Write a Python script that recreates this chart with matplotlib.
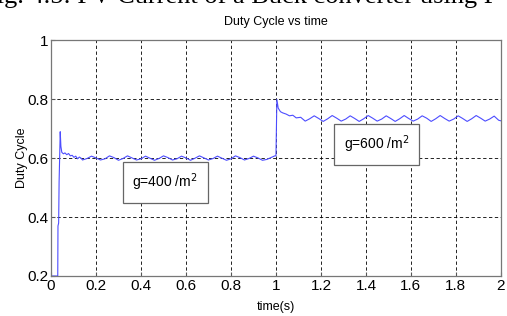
import numpy as np
import matplotlib.pyplot as plt

plt.rcParams['font.family'] = ['Liberation Sans Narrow', 'Liberation Sans', 'DejaVu Sans']

# startup transient (0 .. 0.14 s)
t_start = [0.0, 0.001, 0.030, 0.031, 0.034, 0.036, 0.041, 0.044, 0.048, 0.055, 0.062,
           0.070, 0.078, 0.086, 0.094, 0.102, 0.110, 0.118, 0.126, 0.134]
d_start = [0.53, 0.20, 0.20, 0.37, 0.38, 0.52, 0.69, 0.64, 0.620, 0.615, 0.618,
           0.612, 0.616, 0.608, 0.610, 0.603, 0.607, 0.598, 0.604, 0.600]

# ripple at g=400 (0.14 .. 1.0 s)
t_low = [0.14, 0.16, 0.18, 0.20, 0.22, 0.24, 0.26, 0.28, 0.30, 0.32, 0.34, 0.36,
         0.38, 0.40, 0.42, 0.44, 0.46, 0.48, 0.50, 0.52, 0.54, 0.56, 0.58, 0.60,
         0.62, 0.64, 0.66, 0.68, 0.70, 0.72, 0.74, 0.76, 0.78, 0.80, 0.82, 0.84,
         0.86, 0.88, 0.90, 0.92, 0.94, 0.96, 0.98, 0.995]
d_low = [0.594, 0.599, 0.607, 0.601, 0.594, 0.598, 0.608, 0.602, 0.593, 0.599, 0.608,
         0.601, 0.594, 0.598, 0.607, 0.600, 0.593, 0.599, 0.608, 0.602, 0.594, 0.598,
         0.607, 0.601, 0.593, 0.600, 0.608, 0.601, 0.594, 0.599, 0.607, 0.600, 0.593,
         0.598, 0.608, 0.602, 0.594, 0.599, 0.607, 0.601, 0.593, 0.596, 0.603, 0.608]

# step to g=600 and settling (1.0 .. 2.0 s)
t_high = [1.0, 1.002, 1.004, 1.010, 1.020, 1.030, 1.045, 1.060, 1.075, 1.090, 1.110,
          1.130, 1.150, 1.170, 1.190, 1.210, 1.230, 1.250, 1.270, 1.290, 1.310, 1.330,
          1.350, 1.370, 1.390, 1.410, 1.430, 1.450, 1.470, 1.490, 1.510, 1.530, 1.550,
          1.570, 1.590, 1.610, 1.630, 1.650, 1.670, 1.690, 1.710, 1.730, 1.750, 1.770,
          1.790, 1.810, 1.830, 1.850, 1.870, 1.890, 1.910, 1.930, 1.950, 1.970, 1.990, 2.0]
d_high = [0.608, 0.70, 0.80, 0.770, 0.758, 0.754, 0.750, 0.744, 0.746, 0.737, 0.739,
          0.726, 0.734, 0.744, 0.735, 0.725, 0.734, 0.745, 0.736, 0.726, 0.733, 0.744,
          0.735, 0.725, 0.734, 0.745, 0.736, 0.726, 0.733, 0.744, 0.735, 0.725, 0.734,
          0.745, 0.735, 0.726, 0.733, 0.744, 0.736, 0.725, 0.734, 0.745, 0.735, 0.726,
          0.733, 0.744, 0.735, 0.725, 0.734, 0.745, 0.736, 0.726, 0.733, 0.743, 0.729, 0.727]

t = t_start + t_low + t_high
duty = d_start + d_low + d_high

xticks = [0, 0.2, 0.4, 0.6, 0.8, 1, 1.2, 1.4, 1.6, 1.8, 2]
xticklabels = ['0', '0.2', '0.4', '0.6', '0.8', '1', '1.2', '1.4', '1.6', '1.8', '2']
yticks = [0.2, 0.4, 0.6, 0.8, 1]
yticklabels = ['0.2', '0.4', '0.6', '0.8', '1']

fig = plt.figure(figsize=(5.07, 3.16), dpi=100)
ax = fig.add_axes([0.1006, 0.1266, 0.8874, 0.7454])

ax.plot(t, duty, color='#4d4dff', linewidth=0.8)

ax.set_xlim(0, 2)
ax.set_ylim(0.2, 1)
ax.set_xticks(xticks)
ax.set_xticklabels(xticklabels)
ax.set_yticks(yticks)
ax.set_yticklabels(yticklabels)
ax.tick_params(direction='in', length=3, labelsize=11, color='#555555', pad=2)
ax.grid(True, color='black', linestyle=(0, (4, 3)), linewidth=0.6)
for s in ax.spines.values():
    s.set_color('#777777')
    s.set_linewidth(0.9)

ax.set_title('Duty Cycle vs time', fontsize=9, pad=11)
ax.set_xlabel('time(s)', fontsize=9)
ax.set_ylabel('Duty Cycle', fontsize=9)
ax.xaxis.set_label_coords(0.5, -0.105)
ax.yaxis.set_label_coords(-0.052, 0.5)

box = dict(boxstyle='square,pad=0.7', facecolor='white', edgecolor='#666666', linewidth=0.9)
ax.text(0.507, 0.519, 'g=400 /m$^2$', fontsize=10, ha='center', va='center', bbox=box)
ax.text(1.449, 0.647, 'g=600 /m$^2$', fontsize=10, ha='center', va='center', bbox=box)

# caption cut off at the top of the picture
fig.text(-0.035, 1 - 3 / 316, 'Fig. 4.5: PV Current of a Buck converter using P',
         family='Liberation Serif', fontsize=19, va='baseline', ha='left')

fig.savefig('out.png', dpi=100)
